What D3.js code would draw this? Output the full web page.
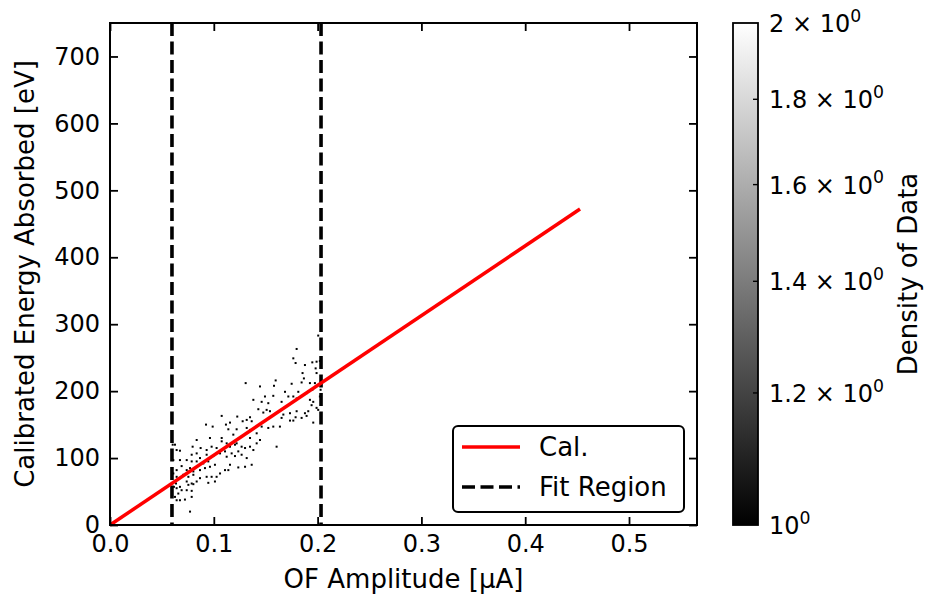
<!DOCTYPE html>
<html><head><meta charset="utf-8">
<script src="https://cdn.jsdelivr.net/npm/d3@7"></script>
<style>body{margin:0;background:#fff}svg{display:block}text{font-family:"DejaVu Sans",sans-serif}</style>
</head><body><div id="chart"></div>
<script>
const ptsX = [0.2006,0.1798,0.1766,0.1788,0.1878,0.1949,0.1990,0.2022,0.1981,0.1990,0.1855,0.1307,0.1596,0.1750,0.1846,0.1868,0.1974,0.1445,0.1580,0.1686,0.1814,0.1949,0.1573,0.1381,0.1461,0.1718,0.1798,0.1926,0.1958,0.1942,0.1990,0.1429,0.1509,0.1541,0.1477,0.1599,0.1670,0.1734,0.1798,0.1878,0.1910,0.1076,0.1226,0.1349,0.1317,0.1156,0.1278,0.1365,0.1653,0.1734,0.1766,0.1788,0.1846,0.1958,0.1894,0.0925,0.0989,0.1117,0.1140,0.1220,0.1317,0.1461,0.1525,0.1573,0.1637,0.1413,0.1349,0.1252,0.1188,0.1076,0.0963,0.0835,0.0796,0.0873,0.0931,0.0979,0.1027,0.1076,0.1124,0.1156,0.1204,0.1268,0.1301,0.1349,0.1413,0.1445,0.1605,0.0642,0.0674,0.0626,0.0610,0.0674,0.0739,0.0787,0.0835,0.0867,0.0931,0.0995,0.1060,0.1124,0.1172,0.1236,0.1268,0.1317,0.1381,0.1204,0.1236,0.1156,0.1108,0.1365,0.1301,0.0690,0.0739,0.0771,0.0803,0.0867,0.0915,0.0963,0.1011,0.1060,0.1027,0.0979,0.0931,0.0867,0.0803,0.0755,0.0739,0.0787,0.0835,0.1011,0.0947,0.0642,0.0642,0.0674,0.0642,0.0690,0.0755,0.0803,0.0739,0.0787,0.0626,0.0642,0.0674,0.0722,0.0787,0.0771,0.0658,0.0636,0.0604,0.0610,0.0616,0.2022,0.2006,0.2029,0.1926,0.1894,0.1766,0.1653,0.1525,0.1493,0.1653,0.1220,0.1108,0.0899,0.0835,0.0706,0.1140,0.0947,0.0787,0.1349];
const ptsY = [283,263,249,242,239,243,244,245,234,227,227,212,216,211,213,219,212,207,208,199,199,202,193,187,184,192,189,187,184,179,175,173,172,170,168,167,165,167,170,167,170,163,162,161,157,153,155,155,160,156,156,161,160,153,163,150,147,150,143,143,145,147,145,147,147,137,130,130,135,130,130,127,117,115,112,117,115,125,122,117,120,117,115,117,122,127,117,112,111,120,97,97,97,105,107,100,105,103,107,102,107,110,105,100,112,103,86,90,82,90,87,88,82,85,80,82,85,87,90,77,72,72,72,70,75,72,65,62,65,65,63,82,72,57,55,52,60,61,52,51,42,37,37,38,42,20,47,62,120,77,57,192,172,202,212,197,192,184,182,192,172,122,110,92,95,75,82,95,95,142];
const densityVals = ptsX.map(() => 1);
const calX = [0, 0.4528];
const calY = [0, 472];
const fitRegion = [0.0597, 0.2033];
const xTicks = [0, 0.1, 0.2, 0.3, 0.4, 0.5];
const yTicks = [0, 100, 200, 300, 400, 500, 600, 700];
const cbTicks = [1, 1.2, 1.4, 1.6, 1.8, 2];
const cbLabels = [["10", "0"], ["1.2 × 10", "0"], ["1.4 × 10", "0"], ["1.6 × 10", "0"], ["1.8 × 10", "0"], ["2 × 10", "0"]];
const legendItems = [{label: "Cal.", color: "#ff0000", dash: null}, {label: "Fit Region", color: "#000", dash: "11,5"}];

const W = 926, H = 597;
const L = 110, R = 697, T = 23, B = 525;
const svg = d3.select("#chart").append("svg").attr("width", W).attr("height", H);
const x = d3.scaleLinear().domain([0, 0.5655]).range([L, R]);
const y = d3.scaleLinear().domain([0, 750]).range([B, T]);
const cmap = d3.scaleLog().domain([1, 2]).range(["#000", "#fff"]);

// points
svg.append("g").selectAll("rect").data(ptsX.map((d, i) => [d, ptsY[i], densityVals[i]])).join("rect")
  .attr("x", d => x(d[0]) - 1).attr("y", d => y(d[1]) - 1).attr("width", 2).attr("height", 2)
  .attr("fill", d => cmap(d[2]));

// fit region lines
svg.append("g").selectAll("line").data(fitRegion).join("line")
  .attr("x1", d => x(d)).attr("x2", d => x(d)).attr("y1", T).attr("y2", B)
  .attr("stroke", "#000").attr("stroke-width", 3.6).attr("stroke-dasharray", "13,5.5");

// calibration line
svg.append("path").datum(calX.map((d, i) => [d, calY[i]]))
  .attr("d", d3.line().x(d => x(d[0])).y(d => y(d[1])))
  .attr("stroke", "#ff0000").attr("stroke-width", 3.5).attr("fill", "none");

// axes
const tickFont = 24;
const xa = svg.append("g").attr("transform", `translate(0,${B})`)
  .call(d3.axisBottom(x).tickValues(xTicks).tickFormat(d3.format(".1f")).tickSizeInner(-8).tickSizeOuter(0).tickPadding(10));
const xt = svg.append("g").attr("transform", `translate(0,${T})`)
  .call(d3.axisTop(x).tickValues(xTicks).tickFormat("").tickSizeInner(-8).tickSizeOuter(0));
const ya = svg.append("g").attr("transform", `translate(${L},0)`)
  .call(d3.axisLeft(y).tickValues(yTicks).tickSizeInner(-8).tickSizeOuter(0).tickPadding(10));
const yr = svg.append("g").attr("transform", `translate(${R},0)`)
  .call(d3.axisRight(y).tickValues(yTicks).tickFormat("").tickSizeInner(-8).tickSizeOuter(0));
[xa, xt, ya, yr].forEach(g => {
  g.select(".domain").remove();
  g.selectAll(".tick line").attr("stroke", "#000").attr("stroke-width", 1.8);
  g.selectAll(".tick text").attr("fill", "#000").attr("font-size", tickFont).attr("font-family", "DejaVu Sans");
});
svg.append("rect").attr("x", L).attr("y", T).attr("width", R - L).attr("height", B - T)
  .attr("fill", "none").attr("stroke", "#000").attr("stroke-width", 2);

// axis labels
const labFont = 26;
svg.append("text").attr("x", (L + R) / 2).attr("y", 588).attr("text-anchor", "middle")
  .attr("font-size", labFont).text("OF Amplitude [µA]");
svg.append("text").attr("transform", `translate(25,${(T + B) / 2}) rotate(-90)`).attr("text-anchor", "middle")
  .attr("dy", "0.35em").attr("font-size", labFont).text("Calibrated Energy Absorbed [eV]");

// legend
const lg = svg.append("g");
lg.append("rect").attr("x", 453).attr("y", 426).attr("width", 231).attr("height", 86).attr("rx", 5)
  .attr("fill", "#fff").attr("stroke", "#000").attr("stroke-width", 2);
legendItems.forEach((it, i) => {
  const yy = 447 + i * 40;
  lg.append("line").attr("x1", 462).attr("x2", 520).attr("y1", yy).attr("y2", yy)
    .attr("stroke", it.color).attr("stroke-width", 3.5).attr("stroke-dasharray", it.dash ? "13,5.5" : null);
  lg.append("text").attr("x", 539).attr("y", yy).attr("dy", "0.35em").attr("font-size", labFont).text(it.label);
});

// colorbar
const cbL = 733, cbR = 758;
const cy = d3.scaleLog().domain([1, 2]).range([B, T]);
const defs = svg.append("defs");
const grad = defs.append("linearGradient").attr("id", "cbg").attr("x1", 0).attr("x2", 0).attr("y1", 1).attr("y2", 0);
grad.append("stop").attr("offset", 0).attr("stop-color", "#000");
grad.append("stop").attr("offset", 1).attr("stop-color", "#fff");
svg.append("rect").attr("x", cbL).attr("y", T).attr("width", cbR - cbL).attr("height", B - T)
  .attr("fill", "url(#cbg)").attr("stroke", "#000").attr("stroke-width", 1.8);
const cbt = svg.append("g");
cbTicks.forEach((t, i) => {
  if (t !== 1 && t !== 2) {
    cbt.append("line").attr("x1", cbR - 5).attr("x2", cbR).attr("y1", cy(t)).attr("y2", cy(t))
      .attr("stroke", "#000").attr("stroke-width", 1.4);
  }
  const tx = cbt.append("text").attr("x", 769).attr("y", cy(t)).attr("dy", "0.38em").attr("font-size", tickFont);
  tx.append("tspan").text(cbLabels[i][0]);
  tx.append("tspan").attr("dy", "-0.6em").attr("font-size", tickFont * 0.72).text(cbLabels[i][1]);
});
svg.append("text").attr("transform", `translate(908,${(T + B) / 2}) rotate(-90)`).attr("text-anchor", "middle")
  .attr("dy", "0.35em").attr("font-size", labFont).text("Density of Data");
</script></body></html>
